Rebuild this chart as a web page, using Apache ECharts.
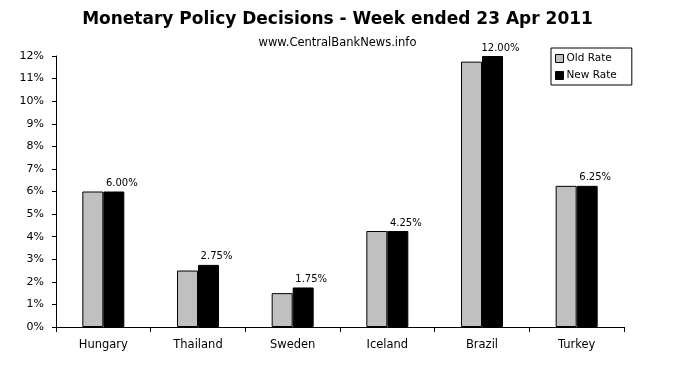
<!DOCTYPE html>
<html>
<head>
<meta charset="utf-8">
<script src="https://cdn.jsdelivr.net/npm/echarts@6/dist/echarts.min.js"></script>
<style>html,body{margin:0;padding:0;background:#fff;}#c{width:675px;height:367px;}</style>
</head>
<body>
<div id="c"></div>
<script>
const categories = ["Hungary", "Thailand", "Sweden", "Iceland", "Brazil", "Turkey"];
const oldRate = [6.00, 2.50, 1.50, 4.25, 11.75, 6.25];
const newRate = [6.00, 2.75, 1.75, 4.25, 12.00, 6.25];
const yTicks = [0, 1, 2, 3, 4, 5, 6, 7, 8, 9, 10, 11, 12];

const FONT = "DejaVu Sans";
const chart = echarts.init(document.getElementById('c'), null, {renderer: 'canvas'});
chart.setOption({
  animation: false,
  backgroundColor: '#ffffff',
  title: [
    {text: 'Monetary Policy Decisions - Week ended 23 Apr 2011', left: 'center', top: 6,
     textStyle: {fontFamily: FONT, fontSize: 17, fontWeight: 'bold', color: '#000'}},
    {text: 'www.CentralBankNews.info', left: 'center', top: 32,
     textStyle: {fontFamily: FONT, fontSize: 11.5, fontWeight: 'normal', color: '#000'}}
  ],
  legend: {
    orient: 'vertical', left: 551, top: 48,
    padding: [5, 15, 4, 4], itemGap: 6, itemWidth: 8, itemHeight: 8,
    borderColor: '#000', borderWidth: 1, icon: 'rect',
    itemStyle: {borderWidth: 1, borderColor: '#000'},
    textStyle: {fontFamily: FONT, fontSize: 10.5, color: '#000', padding: [0, 0, 0, -2]},
    data: ['Old Rate', 'New Rate']
  },
  grid: {left: 56, top: 56, right: 51, bottom: 40, containLabel: false},
  xAxis: {
    type: 'category', data: categories,
    axisLine: {lineStyle: {color: '#000', width: 1}},
    axisTick: {show: true, length: 5, lineStyle: {color: '#000'}},
    axisLabel: {fontFamily: FONT, fontSize: 11.5, color: '#000', margin: 12}
  },
  yAxis: {
    type: 'value', min: yTicks[0], max: yTicks[yTicks.length - 1], interval: 1,
    axisLine: {show: true, lineStyle: {color: '#000', width: 1}},
    axisTick: {show: true, length: 4, lineStyle: {color: '#000'}},
    splitLine: {show: false},
    axisLabel: {fontFamily: FONT, fontSize: 11, color: '#000', margin: 12, formatter: v => v + '%'}
  },
  series: [
    {name: 'Old Rate', type: 'bar', data: oldRate, barWidth: 21, barGap: '0%',
     itemStyle: {color: '#c0c0c0', borderColor: '#000', borderWidth: 1}},
    {name: 'New Rate', type: 'bar', data: newRate, barWidth: 21, barGap: '0%',
     itemStyle: {color: '#000000', borderColor: '#000', borderWidth: 1},
     label: {show: true, position: 'top', distance: 3, offset: [8, 0],
       fontFamily: FONT, fontSize: 10, color: '#000',
       formatter: p => p.value.toFixed(2) + '%'}}
  ]
});
</script>
</body>
</html>
